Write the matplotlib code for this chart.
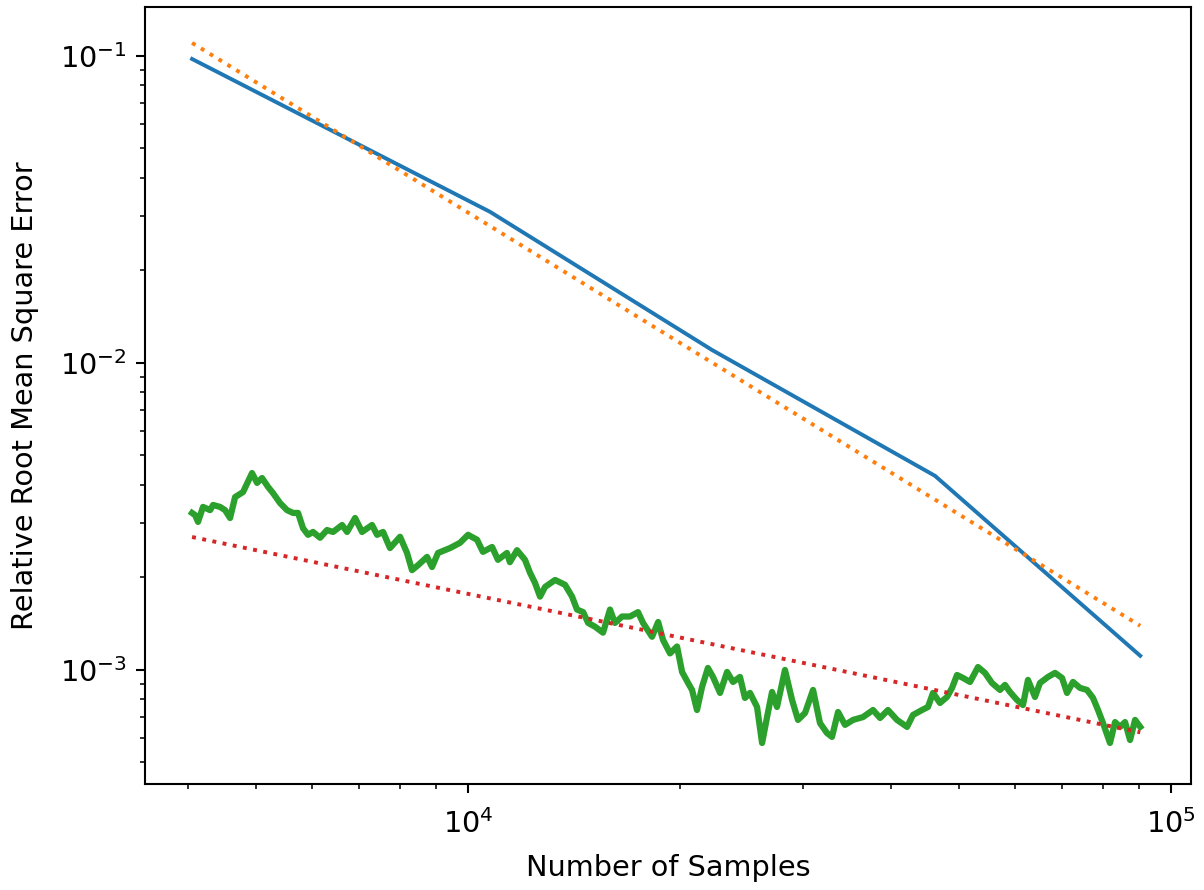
import matplotlib
matplotlib.use("Agg")
import matplotlib.pyplot as plt

# blue: measured error at a few sample sizes
n_meas = [4050, 10750, 22240, 46160, 90400]
err_meas = [0.0976, 0.0310, 0.0110, 0.00428, 0.00111]

# orange / red: reference slopes (straight in log-log)
n_ref = [4050, 90400]
err_ref_a = [0.1101, 0.00139]
err_ref_b = [0.002705, 0.000625]

# green: running error estimate, values x1e-3
n_run = [4050, 4090, 4130, 4198, 4296, 4339, 4439, 4512, 4587, 4663,
         4786, 4929, 5011, 5093, 5194, 5280, 5403, 5527, 5638, 5731,
         5825, 5921, 6019, 6159, 6301, 6427, 6620, 6729, 6908, 7067,
         7302, 7424, 7571, 7745, 8004, 8189, 8324, 8490, 8744, 8888,
         9064, 9428, 9741, 10000, 10300, 10500, 10820, 11030, 11360, 11470,
         11740, 12050, 12250, 12450, 12660, 12870, 13300, 13740, 14060, 14290,
         14580, 14820, 15160, 15560, 15920, 16180, 16560, 17000, 17450, 17740,
         18270, 18640, 18940, 19380, 19830, 20160, 20560, 20830, 21170, 21520,
         21940, 22310, 22830, 23360, 23820, 24370, 24770, 25180, 25770, 26200,
         26630, 27070, 27510, 28240, 28900, 29470, 30160, 30960, 31670, 32400,
         32940, 33600, 34380, 35290, 36470, 37680, 38560, 39570, 40760, 42120,
         42950, 44240, 45110, 45860, 46920, 48010, 48810, 49610, 50590, 51770,
         53140, 54370, 55630, 57110, 58050, 59010, 60370, 61570, 62590, 64040,
         65100, 66830, 68390, 69980, 71130, 72540, 74220, 75940, 77450, 78730,
         80030, 81880, 83250, 84610, 86020, 87440, 88890, 90400]
err_run = [3.24, 3.19, 3.03, 3.39, 3.31, 3.44, 3.39, 3.31, 3.12, 3.65,
           3.79, 4.37, 4.06, 4.21, 3.94, 3.76, 3.49, 3.31, 3.24, 3.24,
           2.89, 2.75, 2.81, 2.69, 2.85, 2.81, 2.96, 2.81, 3.12, 2.81,
           2.96, 2.75, 2.81, 2.49, 2.71, 2.40, 2.11, 2.19, 2.33, 2.16,
           2.40, 2.49, 2.59, 2.75, 2.65, 2.42, 2.51, 2.28, 2.40, 2.24,
           2.45, 2.28, 2.07, 1.92, 1.73, 1.86, 1.96, 1.89, 1.73, 1.57,
           1.54, 1.42, 1.38, 1.32, 1.57, 1.42, 1.49, 1.49, 1.54, 1.42,
           1.28, 1.43, 1.25, 1.13, 1.19, 0.983, 0.905, 0.859, 0.739, 0.878,
           1.013, 0.947, 0.840, 0.983, 0.912, 0.947, 0.809, 0.840, 0.756, 0.577,
           0.701, 0.846, 0.756, 0.998, 0.797, 0.686, 0.723, 0.859, 0.670, 0.622,
           0.604, 0.728, 0.661, 0.686, 0.701, 0.739, 0.696, 0.739, 0.686, 0.651,
           0.712, 0.739, 0.756, 0.840, 0.779, 0.815, 0.872, 0.961, 0.940, 0.912,
           1.020, 0.976, 0.905, 0.859, 0.892, 0.846, 0.797, 0.767, 0.926, 0.815,
           0.905, 0.947, 0.976, 0.940, 0.840, 0.912, 0.872, 0.859, 0.809, 0.739,
           0.670, 0.577, 0.675, 0.651, 0.675, 0.590, 0.686, 0.651]
err_run = [v * 1e-3 for v in err_run]

plt.rcParams['font.size'] = 11

fig = plt.figure(figsize=(1204 / 188, 890 / 188), dpi=188)
ax = fig.add_axes([0.1204, 0.1191, 0.8688, 0.8730])

ax.plot(n_meas, err_meas, color="C0")
ax.plot(n_ref, err_ref_a, color="C1", linestyle=":")
ax.plot(n_run, err_run, color="C2", linewidth=2.4)
ax.plot(n_ref, err_ref_b, color="C3", linestyle=":")

ax.set_xscale("log")
ax.set_yscale("log")
ax.set_xlim(3471, 106760)
ax.set_ylim(4.242e-4, 0.1441)

ax.tick_params(axis='x', which='both', pad=6)
ax.set_xlabel("Number of Samples", labelpad=6)
ax.set_ylabel("Relative Root Mean Square Error", labelpad=8)

fig.savefig("out.png", dpi=188)
